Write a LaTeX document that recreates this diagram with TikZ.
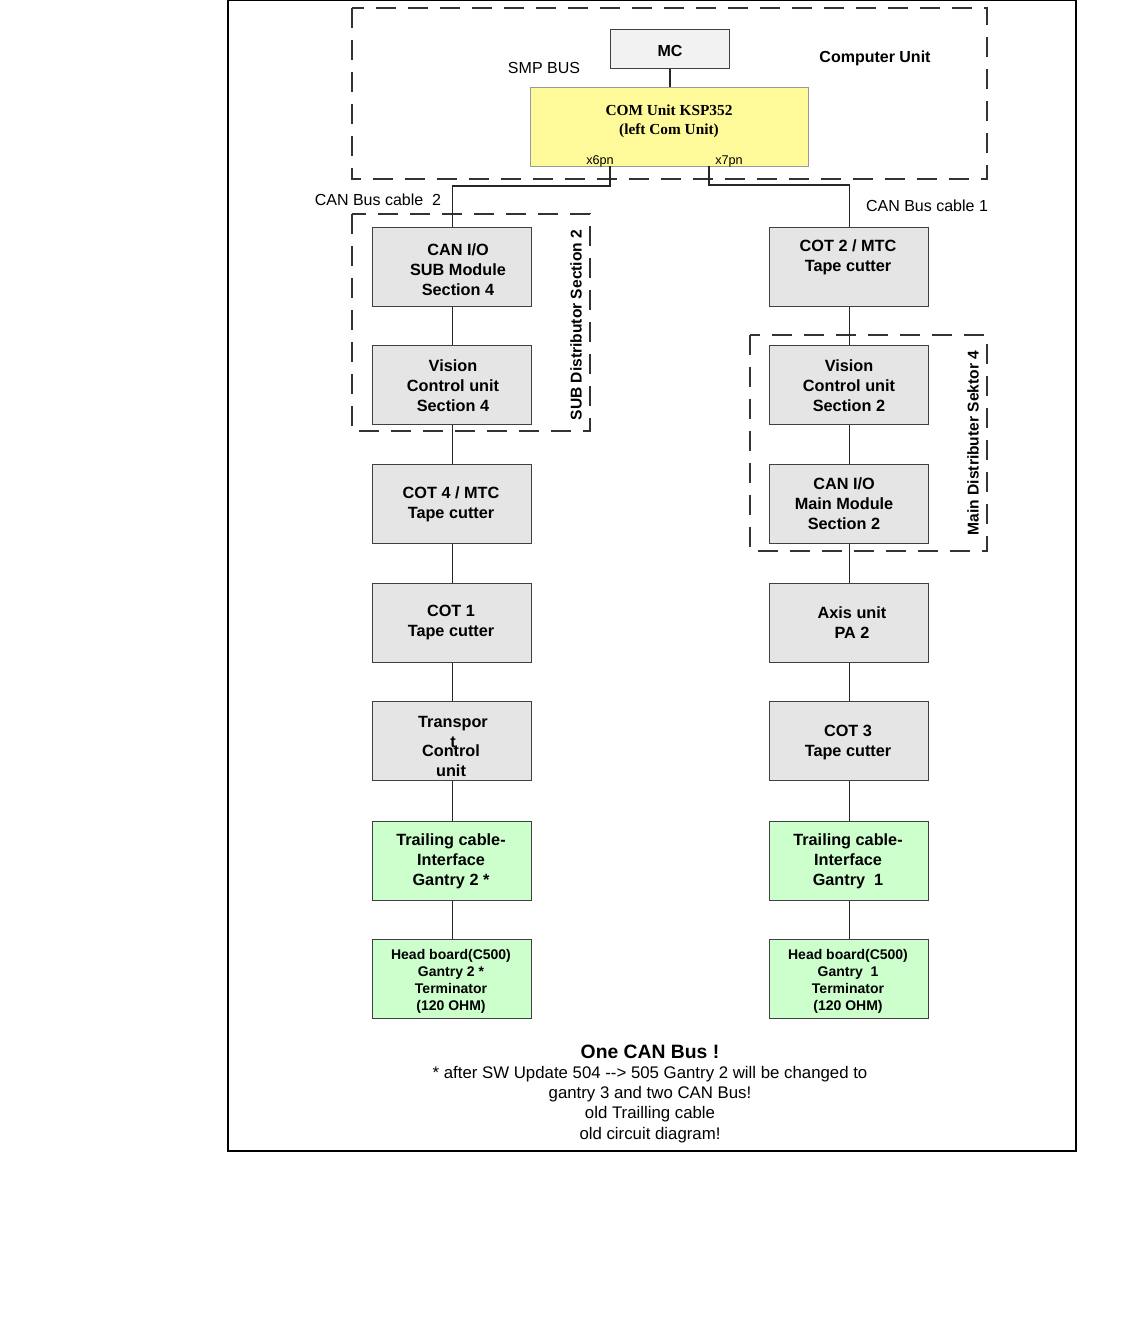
\documentclass[tikz,border=0pt]{standalone}
\usepackage{fontspec}
\setmainfont{Liberation Sans}
\newfontfamily\serifb{Liberation Serif}
\begin{document}
\begin{tikzpicture}[x=0.75pt,y=-0.75pt,
  blk/.style={draw=black!75,line width=0.9pt,minimum width=119.25pt,minimum height=59.25pt,inner sep=0pt,anchor=north west},
  gray/.style={blk,fill=black!10},
  green/.style={blk,fill=green!20},
  txt/.style={align=center,font=\bfseries\fontsize{12.2}{15}\selectfont,inner sep=0pt},
  small/.style={align=center,font=\bfseries\fontsize{10.5}{12.75}\selectfont,inner sep=0pt},
  lbl/.style={font=\fontsize{12}{14}\selectfont,inner sep=0pt},
  grp/.style={draw=black!80,line width=0.9pt,dash pattern=on 15pt off 9pt},
  wire/.style={draw=black!85,line width=0.8pt}]
\useasboundingbox (0,0) rectangle (1134,1320);
\draw[line width=0.8pt] (228,0.5) rectangle (1076,1151);
% groups
\draw[grp] (352,8) rectangle (987,179);
\draw[grp] (352,214) rectangle (590,431);
\draw[grp] (750,335) rectangle (987,551);
% computer unit
\node[draw=black!75,line width=0.9pt,fill=black!5,minimum width=89.25pt,minimum height=29.25pt,inner sep=0pt,anchor=north west] (mc) at (610,29) {};
\node[txt,font=\bfseries\fontsize{12}{14}\selectfont] (mct) at (670,51) {MC};
\node[draw=black!40,line width=0.7pt,fill=yellow!40,minimum width=208.5pt,minimum height=59.25pt,inner sep=0pt,anchor=north west] (com) at (530,87) {};
\node[align=center,inner sep=0pt,font=\serifb\bfseries\fontsize{11.5}{14.5}\selectfont] (comt) at (669,121) {COM Unit KSP352\\(left Com Unit)};
\node[inner sep=0pt,font=\fontsize{9.5}{11}\selectfont] (x6t) at (600,161) {x6pn};
\node[inner sep=0pt,font=\fontsize{9.5}{11}\selectfont] (x7t) at (729,161) {x7pn};
\coordinate (x6) at (610,166);
\coordinate (x7) at (709,166);
\node[lbl] (smp) at (544,68) {SMP BUS};
\node[lbl,font=\bfseries\fontsize{12}{14}\selectfont] (cu) at (875,58) {Computer Unit};
\node[lbl] (cb2) at (378,200) {CAN Bus cable\ \ 2};
\node[lbl] (cb1) at (927,206) {CAN Bus cable 1};
\draw[wire] (mc.south -| 670,0) -- (com.north -| 670,0);
% left column
\node[gray] (sub) at (372,227) {};
\node[gray] (vis4) at (372,345) {};
\node[gray] (cot4) at (372,464) {};
\node[gray] (cot1) at (372,583) {};
\node[gray] (trans) at (372,701) {};
\node[green] (tr2) at (372,821) {};
\node[green] (hb2) at (372,939) {};
% right column
\node[gray] (cot2) at (769,227) {};
\node[gray] (vis2) at (769,345) {};
\node[gray] (can2) at (769,464) {};
\node[gray] (axis) at (769,583) {};
\node[gray] (cot3) at (769,701) {};
\node[green] (tr1) at (769,821) {};
\node[green] (hb1) at (769,939) {};
% texts
\node[txt] (t1) at (458,270) {CAN I/O\\SUB Module\\Section 4};
\node[txt] (t2) at (453,386) {Vision\\Control unit\\Section 4};
\node[txt] (t3) at (451,504) {COT 4 / MTC\\Tape cutter};
\node[txt] (t4) at (451,623) {COT 1\\Tape cutter};
\node[txt] (t5a) at (453,732) {Transpor\\t};
\node[txt] (t5b) at (451,761) {Control\\unit};
\node[txt] (t6) at (451,861) {Trailing cable-\\Interface\\Gantry 2 *};
\node[small] (t7) at (451,981) {Head board(C500)\\Gantry 2 *\\Terminator\\(120 OHM)};
\node[txt] (r1) at (848,257) {COT 2 / MTC\\Tape cutter};
\node[txt] (r2) at (849,386) {Vision\\Control unit\\Section 2};
\node[txt] (r3) at (844,504) {CAN I/O\\Main Module\\Section 2};
\node[txt] (r4) at (852,623) {Axis unit\\PA 2};
\node[txt] (r5) at (848,742) {COT 3\\Tape cutter};
\node[txt] (r6) at (848,861) {Trailing cable-\\Interface\\Gantry\ \ 1};
\node[small] (r7) at (848,981) {Head board(C500)\\Gantry\ \ 1\\Terminator\\(120 OHM)};
% vertical labels
\node[rotate=90,inner sep=0pt,font=\bfseries\fontsize{11.7}{14}\selectfont] (sd) at (576,325) {SUB Distributor Section 2};
\node[rotate=90,inner sep=0pt,font=\bfseries\fontsize{11.7}{14}\selectfont] (md) at (973,443) {Main Distributer Sektor 4};
% wires
\draw[wire] (x6) -- ++(0,20) -| (sub.north);
\draw[wire] (x7) -- ++(0,19) -| (cot2.north);
\draw[wire] (sub) -- (vis4) -- (cot4) -- (cot1) -- (trans) -- (tr2) -- (hb2);
\draw[wire] (cot2) -- (vis2) -- (can2) -- (axis) -- (cot3) -- (tr1) -- (hb1);
% bottom text
\node[inner sep=0pt,font=\bfseries\fontsize{14.5}{17}\selectfont] (one) at (650,1052) {One CAN Bus !};
\node[inner sep=0pt,align=center,font=\fontsize{12.6}{15.2}\selectfont,anchor=north] (note) at (650,1066) {* after SW Update 504 -{}-{}> 505 Gantry 2 will be changed to\\gantry 3 and two CAN Bus!\\old Trailling cable\\old circuit diagram!};
\end{tikzpicture}
\end{document}
